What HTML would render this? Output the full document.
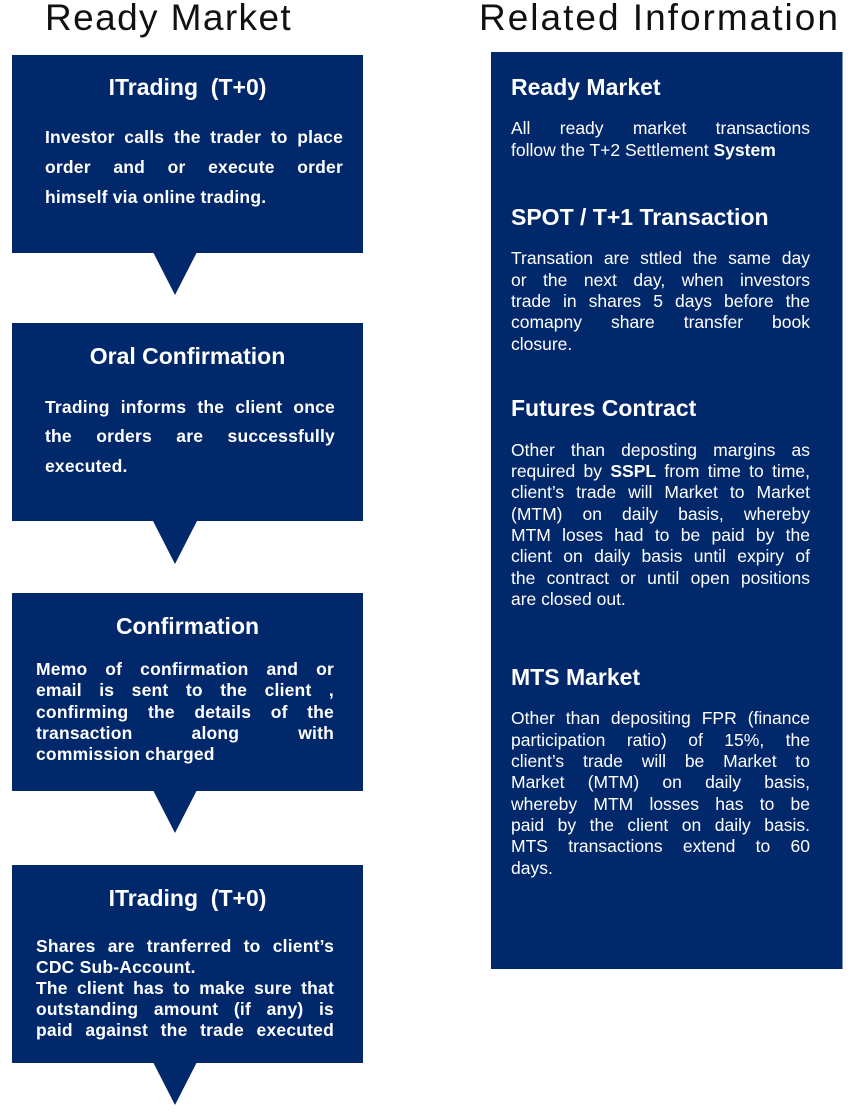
<!DOCTYPE html>
<html><head><meta charset="utf-8"><style>
body{margin:0;width:855px;height:1113px;background:#fff;position:relative;overflow:hidden;font-family:"Liberation Sans",Arial,sans-serif;}
.t{position:absolute;top:-3px;font-size:37px;color:#111;letter-spacing:1.4px;white-space:nowrap;font-weight:300}
.box{position:absolute;left:12px;width:351px;height:198px;background:#02286c;}
.tri{position:absolute;width:0;height:0;border-left:22px solid transparent;border-right:22px solid transparent;border-top:43px solid #02286c;left:153px;}
.panel{position:absolute;left:491px;top:52px;width:351px;height:917px;background:#02286c;box-shadow:1px 0 0 #7d8fb5;}
.h{position:absolute;color:#fff;font-weight:bold;font-size:23px;line-height:26px;white-space:nowrap}
.hc{left:12px;width:351px;text-align:center}
.hr{left:511px}
.l{position:absolute;color:#fff;line-height:20px;white-space:nowrap;text-align:justify;text-align-last:justify}
.lb{font-weight:bold;font-size:17.5px;letter-spacing:0.2px}
.rr{font-size:17.5px;left:511px;width:299px}
.n{text-align-last:left}
</style></head><body>
<div class="t" style="left:45px">Ready Market</div>
<div class="t" style="left:479px;letter-spacing:2px">Related Information</div>

<div class="box" style="top:55px"></div><div class="tri" style="top:252px"></div>
<div class="box" style="top:323px"></div><div class="tri" style="top:521px"></div>
<div class="box" style="top:593px"></div><div class="tri" style="top:790px"></div>
<div class="box" style="top:865px"></div><div class="tri" style="top:1062px"></div>
<div class="panel"></div>

<div class="h hc" style="top:74px">ITrading&nbsp; (T+0)</div>
<div class="l lb" style="left:45px;width:298px;top:127px">Investor calls the trader to place</div>
<div class="l lb" style="left:45px;width:298px;top:157px">order and or execute order</div>
<div class="l lb n" style="left:45px;width:298px;top:187px">himself via online trading.</div>

<div class="h hc" style="top:343px">Oral Confirmation</div>
<div class="l lb" style="left:45px;width:290px;top:397px">Trading informs the client once</div>
<div class="l lb" style="left:45px;width:290px;top:426px">the orders are successfully</div>
<div class="l lb n" style="left:45px;width:290px;top:456px">executed.</div>

<div class="h hc" style="top:613px">Confirmation</div>
<div class="l lb" style="left:36px;width:298px;top:659px">Memo of confirmation and or</div>
<div class="l lb" style="left:36px;width:298px;top:680px">email is sent to the client ,</div>
<div class="l lb" style="left:36px;width:298px;top:702px">confirming the details of the</div>
<div class="l lb" style="left:36px;width:298px;top:723px">transaction along with</div>
<div class="l lb n" style="left:36px;width:298px;top:744px">commission charged</div>

<div class="h hc" style="top:885px">ITrading&nbsp; (T+0)</div>
<div class="l lb" style="left:36px;width:298px;top:936px">Shares are tranferred to client’s</div>
<div class="l lb n" style="left:36px;width:298px;top:957px">CDC Sub-Account.</div>
<div class="l lb" style="left:36px;width:298px;top:978px">The client has to make sure that</div>
<div class="l lb" style="left:36px;width:298px;top:999px">outstanding amount (if any) is</div>
<div class="l lb" style="left:36px;width:298px;top:1020px">paid against the trade executed</div>

<div class="h hr" style="top:74px">Ready Market</div>
<div class="l rr" style="top:118px">All ready market transactions</div>
<div class="l rr n" style="top:140px">follow the T+2 Settlement <b>System</b></div>

<div class="h hr" style="top:204px">SPOT / T+1 Transaction</div>
<div class="l rr" style="top:248px">Transation are sttled the same day</div>
<div class="l rr" style="top:270px">or the next day, when investors</div>
<div class="l rr" style="top:291px">trade in shares 5 days before the</div>
<div class="l rr" style="top:312px">comapny share transfer book</div>
<div class="l rr n" style="top:334px">closure.</div>

<div class="h hr" style="top:395px">Futures Contract</div>
<div class="l rr" style="top:440px">Other than deposting margins as</div>
<div class="l rr" style="top:461px">required by <b>SSPL</b> from time to time,</div>
<div class="l rr" style="top:482px">client’s trade will Market to Market</div>
<div class="l rr" style="top:504px">(MTM) on daily basis, whereby</div>
<div class="l rr" style="top:525px">MTM loses had to be paid by the</div>
<div class="l rr" style="top:546px">client on daily basis until expiry of</div>
<div class="l rr" style="top:568px">the contract or until open positions</div>
<div class="l rr n" style="top:589px">are closed out.</div>

<div class="h hr" style="top:664px">MTS Market</div>
<div class="l rr" style="top:708px">Other than depositing FPR (finance</div>
<div class="l rr" style="top:730px">participation ratio) of 15%, the</div>
<div class="l rr" style="top:751px">client’s trade will be Market to</div>
<div class="l rr" style="top:772px">Market (MTM) on daily basis,</div>
<div class="l rr" style="top:794px">whereby MTM losses has to be</div>
<div class="l rr" style="top:815px">paid by the client on daily basis.</div>
<div class="l rr" style="top:836px">MTS transactions extend to 60</div>
<div class="l rr n" style="top:858px">days.</div>
</body></html>
